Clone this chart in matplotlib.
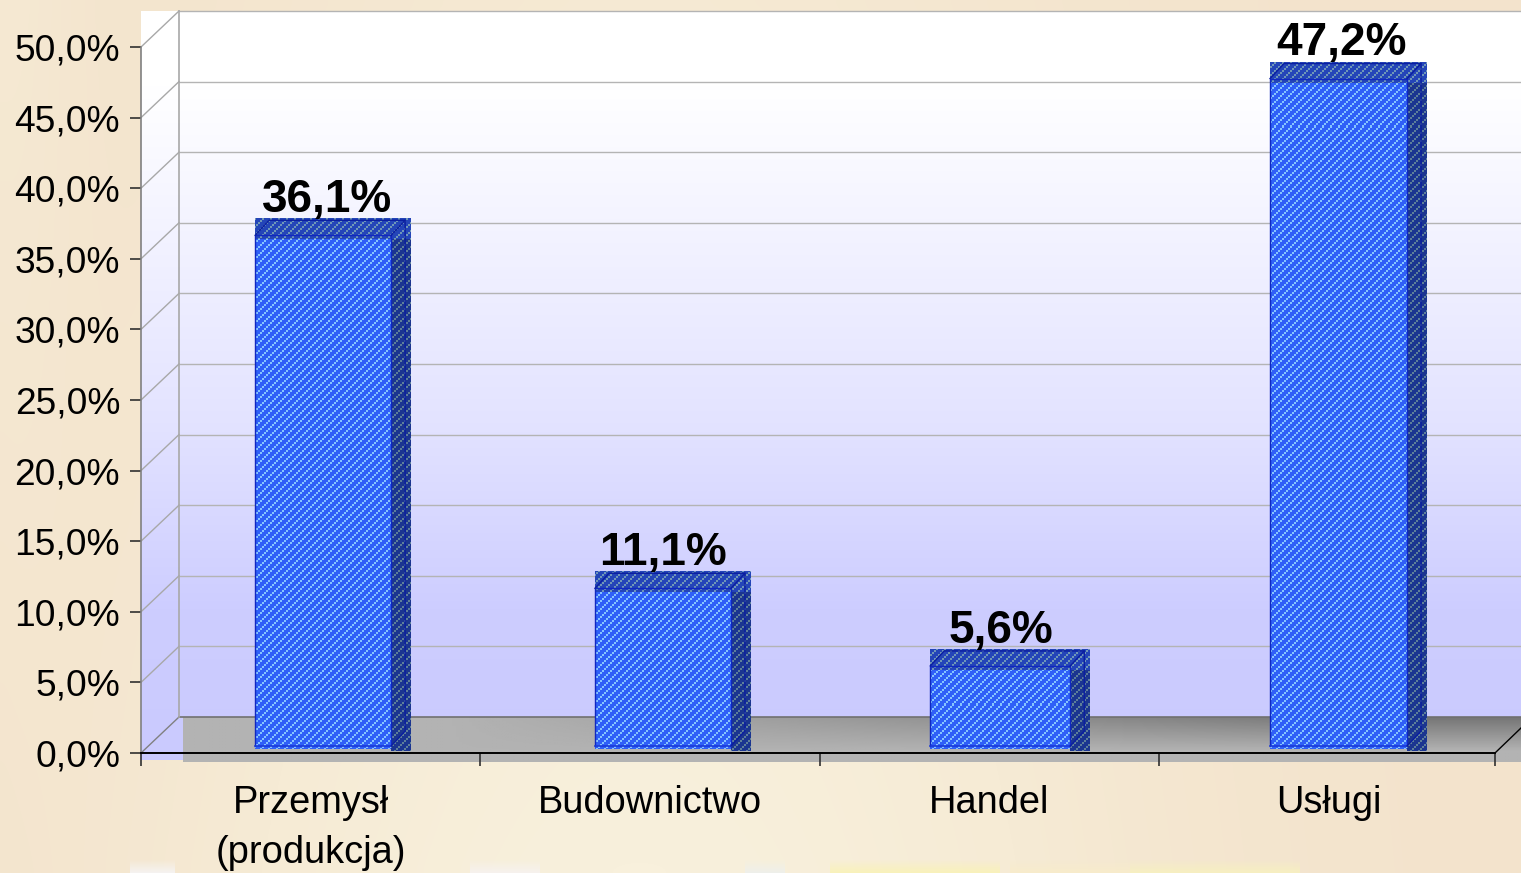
import numpy as np
import matplotlib
matplotlib.use('Agg')
import matplotlib.pyplot as plt
from matplotlib.patches import Rectangle
from matplotlib.colors import LinearSegmentedColormap, to_rgb

W, H = 1521, 873
plt.rcParams['font.family'] = ['Liberation Sans', 'DejaVu Sans']

categories = ['Przemysł\n(produkcja)', 'Budownictwo', 'Handel', 'Usługi']
values = [36.1, 11.1, 5.6, 47.2]
value_labels = ['36,1%', '11,1%', '5,6%', '47,2%']
y_ticks = [0, 5, 10, 15, 20, 25, 30, 35, 40, 45, 50]
y_tick_labels = ['0,0%', '5,0%', '10,0%', '15,0%', '20,0%', '25,0%', '30,0%', '35,0%', '40,0%', '45,0%', '50,0%']

fig = plt.figure(figsize=(W / 100, H / 100), dpi=100)

# background in pixel coords
bg = fig.add_axes([0, 0, 1, 1])
bg.axis('off')

xx, yy = np.meshgrid(np.linspace(0, 1, 160), np.linspace(0, 1, 90))
paper = LinearSegmentedColormap.from_list('paper', ['#f3e3cc', '#f6ebd5', '#f8f0dc'])
bg.imshow(np.exp(-((xx - 0.42) / 0.3) ** 2) * (0.4 + 0.6 * yy) + 0.3 * np.exp(-(xx / 0.05) ** 2) * (1 - yy), extent=[0, W, H, 0],
          aspect='auto', cmap=paper, vmin=0, vmax=1, interpolation='bicubic')

# faint flecks along the bottom edge
ramp = np.linspace(0, 1, 14).reshape(-1, 1)
for x0, x1, col in [(130, 175, '#f6f4f4'), (470, 540, '#f6f2f0'), (745, 785, '#eef0ec'), (830, 1000, '#f9f2b8'),
                    (1010, 1130, '#f8eccb'), (1130, 1300, '#f7f0c0')]:
    rgba = np.ones((14, 1, 4))
    rgba[:, :, :3] = to_rgb(col)
    rgba[:, :, 3] = ramp * 0.9
    bg.imshow(rgba, extent=[x0, x1, 873, 859], aspect='auto')

# wall gradient
wall = LinearSegmentedColormap.from_list('wall', [(0, '#ffffff'), (0.1, '#ffffff'), (0.55, '#e3e3ff'), (0.8, '#cdcdff'), (1, '#cacafe')])
g = np.linspace(0, 1, 256).reshape(-1, 1)
bg.imshow(g, extent=[141, W, 760, 11], aspect='auto', cmap=wall, vmin=0, vmax=1)

# floor
floor_x = np.clip((np.linspace(0, 1, 400) - 0.2) / 0.7, 0, 1)
floor_y = np.clip(np.linspace(0, 1, 60) / 0.75, 0, 1)
shade = 0.70 - 0.24 * np.outer(1 - floor_y, floor_x)
bg.imshow(shade, extent=[183, W, 762, 717], aspect='auto', cmap='gray', vmin=0, vmax=1)
bg.set_xlim(0, W)
bg.set_ylim(H, 0)
bg.plot([179, W], [717, 717], color='#707070', lw=1.2)

# main axes: front plane of the 3D box
cat_px = 339.3
x_max = (1495 - 141) / cat_px
ax = fig.add_axes([141 / W, 1 - 753 / H, (1495 - 141) / W, (753 - 47) / H])
ax.patch.set_alpha(0)
ux = 1 / cat_px   # data units per pixel
uy = 50 / (753 - 47)

# pixel texture of the bars, squares along rising diagonals
px, py = np.meshgrid(np.arange(W), np.arange(H))
texture = (px // 2 + py // 2) % 4 == 0
texture_extent = [-141 * ux, (W - 141) * ux, -(H - 753) * uy, 753 * uy]


def add_texture(patch, color):
    rgba = np.zeros((H, W, 4))
    rgba[:, :, :3] = to_rgb(color)
    rgba[:, :, 3] = texture
    im = ax.imshow(rgba, extent=texture_extent, aspect='auto', interpolation='nearest', zorder=patch.get_zorder())
    im.set_clip_path(patch)


for s in ['top', 'right']:
    ax.spines[s].set_visible(False)
ax.spines['left'].set_color('#808080')
ax.spines['left'].set_bounds(0, 50)
ax.spines['left'].set_linewidth(1.2)
ax.spines['bottom'].set_color('black')
ax.spines['bottom'].set_linewidth(1.4)

dx, dy = 38 * ux, 36 * uy

# back wall gridlines and side diagonals
for t in y_ticks:
    c = '#a8a8a8' if t > 0 else '#808080'
    ax.plot([0, dx], [t, t + dy], color=c, lw=1, clip_on=False, zorder=1)
    if t > 0:
        ax.plot([dx, x_max + 26 * ux], [t + dy, t + dy], color='#b4b4b4', lw=1, clip_on=False, zorder=1)
ax.plot([dx, dx], [dy, 50 + dy], color='#a8a8a8', lw=1.2, clip_on=False, zorder=1)
ax.plot([x_max, x_max + 26 * ux], [0, 25 * uy], color='black', lw=1, clip_on=False, zorder=1)

# bars: the silhouette is a rectangle, inner lines give the 3D look
bar_shift = np.array([12.5, 13, 11, 10]) * ux
bar_width = np.array([136, 136, 140, 137]) * ux
label_shift = np.array([16.4, 13, 12, 12.5]) * ux
x = np.arange(len(values)) + 0.5 + bar_shift
base = 7 * uy
low = 3 * uy
side_w, top_h = 20 * ux, 18 * uy
ddx, ddy = 14 * ux, 15 * uy
bars = ax.bar(x, [v + low for v in values], bar_width, bottom=base - low, color='#2f5ff7', lw=0, zorder=3, clip_on=False)
for bar in bars:
    add_texture(bar, '#86c4ff')
for xi, v, width in zip(x, values, bar_width):
    left, right = xi - width / 2, xi + width / 2
    top = base + v
    side = ax.add_patch(Rectangle((right, base - 5 * uy), side_w, top - base + 5 * uy, facecolor='#1b3590', lw=0, zorder=3.1, clip_on=False))
    add_texture(side, '#5e7f9a')
    cap = ax.add_patch(Rectangle((left, top - 3 * uy), width + side_w, top_h + 3 * uy, facecolor='#2445b8', lw=0, zorder=3.2, clip_on=False))
    add_texture(cap, '#6f97b8')
    line_top = top + 1 * uy
    ax.plot([left, left, right, right], [base, line_top, line_top, base], color='#1028c0', lw=1, zorder=4, clip_on=False)
    ax.plot([left, right], [base, base], color='#1a3ad8', lw=1.2, zorder=4, clip_on=False)
    ax.plot([left, left + ddx, right + ddx, right], [line_top, line_top + ddy, line_top + ddy, line_top],
            color='#0a1ea0', lw=1, zorder=4, clip_on=False)
    ax.plot([right, right + ddx, right + ddx], [base, base + ddy, line_top + ddy], color='#0a1ea0', lw=1, zorder=4, clip_on=False)

for i, (v, lab) in enumerate(zip(values, value_labels)):
    ax.annotate(lab, (i + 0.5 + label_shift[i], base + v + top_h), xytext=(0, 4.5), textcoords='offset points', ha='center', va='baseline',
                fontsize=33, fontweight='bold', color='black', zorder=6, annotation_clip=False)

ax.set_xlim(0, x_max)
ax.set_ylim(0, 50)
ax.set_yticks(y_ticks, y_tick_labels)
ax.tick_params(axis='y', length=8, width=1.2, color='#303030', pad=7, labelsize=26.7)
ax.set_xticks([0, 1, 2, 3, x_max])
ax.set_xticklabels([])
ax.tick_params(axis='x', length=9, width=1.2, color='#303030')
for i, c in enumerate(categories):
    ax.annotate(c, (i + 0.5, 0), xytext=(0, -23), textcoords='offset points', ha='center', va='top',
                fontsize=27.4, linespacing=1.5, annotation_clip=False)

fig.savefig('out.png', dpi=100)
